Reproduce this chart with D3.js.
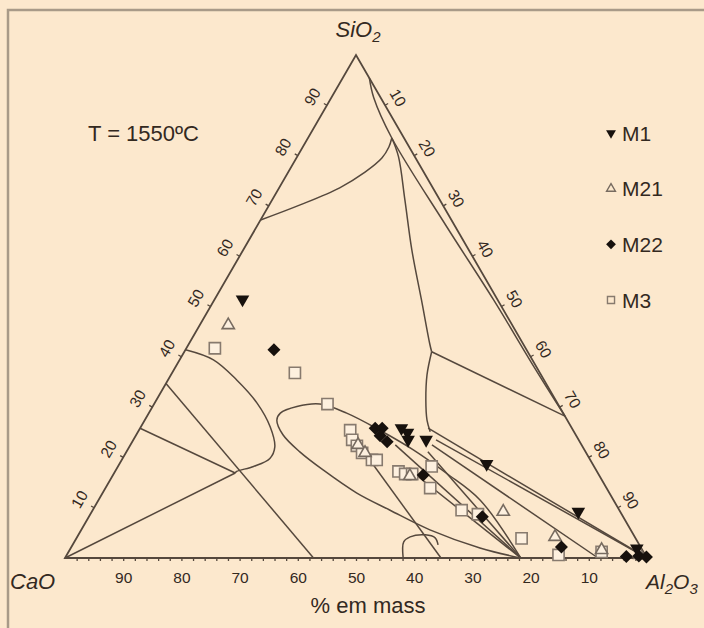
<!DOCTYPE html>
<html>
<head>
<meta charset="utf-8">
<script src="https://cdn.jsdelivr.net/npm/d3@7"></script>
<style>
  body { margin: 0; background: #fce8cd; }
  svg { display: block; }
  text { font-family: "Liberation Sans", Arial, sans-serif; fill: #33291f; }
</style>
</head>
<body>
<svg width="704" height="628"></svg>
<script>
// compositions are [CaO, SiO2, Al2O3] in wt%
const seriesNames = ['M1', 'M21', 'M22', 'M3'];

const m1 = [[43.8,51.4,4.8],[29.3,25.8,44.9],[28.7,24.9,46.4],[29.3,23.5,47.2],[26.2,23.5,50.3],
  [18.2,18.7,63.1],[7.2,9.2,83.6],[0.8,1.9,97.3]];
const m21 = [[48.8,46.3,4.9],[38.4,22.5,39.1],[38.0,20.9,41.1],[32.6,16.3,51.1],[20.1,9.2,70.7],
  [13.7,4.2,82.1],[7.0,1.6,91.4],[0.9,0.6,98.5]];
const m22 = [[43.4,41.4,15.2],[33.8,25.8,40.4],[32.6,25.8,41.6],[33.8,24.3,42.0],[33.1,23.1,43.8],
  [30.2,16.5,53.3],[24.3,8.2,67.6],[13.5,2.2,84.2],[3.4,0.3,96.3],[1.2,0.4,98.4],[0,0.2,99.8]];
const m3 = [[53.4,41.7,4.9],[42.1,36.8,21.1],[39.6,30.6,29.8],[38.3,25.4,36.3],[39.0,23.5,37.6],
  [38.7,22.3,39.0],[38.5,20.9,40.6],[37.6,19.5,43.0],[36.7,19.5,43.8],[27.9,18.2,53.9],
  [34.2,17.2,48.7],[33.2,16.7,50.1],[32.0,16.7,51.3],[30.4,13.9,55.8],[27.1,9.5,63.4],
  [24.7,8.7,66.6],[19.6,3.9,76.5],[14.9,0.6,84.5],[7.2,1.2,91.6]];

// phase boundaries / tie lines of the 1550 C section
const boundaries = [
  [[32.8,67.2,0],[24.5,70.2,5.3],[16.0,73.6,10.4],[10.1,76.7,13.2],[5.8,79.5,14.7],[3.5,81.7,14.8],[2.1,83.5,14.4]],
  [[0,95.4,4.6],[1.2,91.5,7.3],[2.1,83.5,14.4],[1.5,66.2,32.3],[0.7,51.3,48.0],[0.4,37.4,62.2],[0,28.2,71.8]],
  [[2.1,83.5,14.4],[2.8,79.8,17.4],[6.0,71.2,22.8],[9.8,61.2,29.0],[13.1,51.3,35.6],[16.0,42.7,41.3],[16.5,41.0,42.5]],
  [[16.5,41.0,42.5],[0,28.2,71.8]],
  [[16.5,41.0,42.5],[19.6,36.4,44.0],[22.3,31.4,46.3],[24.1,27.4,48.5],[24.8,25.1,50.2]],
  [[24.7,25.8,49.5],[0,0,100]],
  [[24.5,23.5,52.0],[0,0,100]],
  [[25.7,22.5,51.8],[8.4,0,91.6]],
  [[27.1,21.1,51.8],[21.7,0,78.3]],
  [[32.1,22.5,45.5],[21.7,0,78.3]],
  [[32.0,17.5,50.5],[21.7,0,78.3]],
  // elongated liquid loop
  [[21.7,0,78.3],[22.9,11.5,65.6],[26.0,16.8,57.2],[29.4,21.5,49.1],[33.2,25.4,41.4],[37.2,28.8,34.0],
   [40.9,30.6,28.5],[45.2,30.1,24.8],[48.6,28.8,22.6],[49.9,27.4,22.7],[50.3,24.5,25.2],[49.1,21.1,29.8],
   [46.9,17.5,35.6],[43.5,12.9,43.7],[39.4,9.5,51.1],[34.5,5.6,59.9],[27.7,2.0,70.3],[21.7,0,78.3]],
  [[38.4,23.5,38.1],[35.4,0,64.6]],
  [[41.9,0,58.1],[40.2,3.2,56.6],[38.6,4.2,57.2],[35.9,4.6,59.6],[34.4,4.0,61.6],[34.6,2.6,62.8]],
  // CaO-rich side
  [[58.6,41.4,0],[54.8,39.4,5.8],[52.8,35.4,11.8],[51.7,30.8,17.6],[51.7,26.1,22.2],[52.9,22.1,25.0],
   [54.9,19.8,25.3],[58.6,18.2,23.3],[61.9,17.2,20.9],[62.3,16.9,20.8]],
  [[74.2,25.8,0],[62.3,16.9,20.8]],
  [[100,0,0],[62.3,16.9,20.8]],
  [[65.3,34.7,0],[57.3,0,42.7]]
];

const axisTicks = [10, 20, 30, 40, 50, 60, 70, 80, 90];

const ink = '#55483d';

const svg = d3.select('svg');

// frame
svg.append('path')
  .attr('d', 'M8,628 V10 H704')
  .attr('fill', 'none')
  .attr('stroke', '#a89a88')
  .attr('stroke-width', 2.5);

const x0 = 65, x1 = 647, yBase = 558, yTop = 55;

// horizontal position measured in "Al2O3 + SiO2/2" units, vertical in SiO2
const xScale = d3.scaleLinear().domain([0, 100]).range([x0, x1]);
const yScale = d3.scaleLinear().domain([0, 100]).range([yBase, yTop]);
const caoScale = d3.scaleLinear().domain([100, 0]).range([x0, x1]);

const px = d => xScale(d[2] + d[1] / 2);
const py = d => yScale(d[1]);

const chart = svg.append('g');

// phase diagram lines
const line = d3.line().x(px).y(py).curve(d3.curveCatmullRom.alpha(0.5));
chart.selectAll('.bnd')
  .data(boundaries)
  .enter()
  .append('path')
  .attr('class', 'bnd')
  .attr('d', line)
  .attr('fill', 'none')
  .attr('stroke', ink)
  .attr('stroke-width', 1.5);

// triangle edges
const corners = [[100, 0, 0], [0, 100, 0], [0, 0, 100]];
chart.append('path')
  .attr('d', d3.line().x(px).y(py)(corners) + 'Z')
  .attr('fill', 'none')
  .attr('stroke', ink)
  .attr('stroke-width', 1.8);

// bottom axis (CaO)
const minor = d3.range(2, 100, 2);
chart.append('g')
  .attr('transform', `translate(0, ${yBase})`)
  .call(d3.axisBottom(caoScale).tickValues(minor).tickSize(3).tickFormat(''))
  .call(g => g.select('.domain').remove())
  .selectAll('line').attr('stroke', ink).attr('stroke-width', 1.3);

chart.append('g')
  .attr('transform', `translate(0, ${yBase})`)
  .call(d3.axisBottom(caoScale).tickValues(axisTicks).tickSize(0).tickPadding(14))
  .call(g => g.select('.domain').remove())
  .selectAll('text')
  .attr('font-size', 15.5)
  .attr('font-family', '"Liberation Sans", Arial, sans-serif')
  .attr('fill', '#33291f');

// side tick marks
const sideTicks = chart.append('g');
axisTicks.forEach(v => {
  const l = [100 - v, v, 0];
  const r = [0, 100 - v, v];
  sideTicks.append('line')
    .attr('x1', px(l)).attr('y1', py(l))
    .attr('x2', px(l) - 3.5 * 0.866).attr('y2', py(l) - 3.5 * 0.5)
    .attr('stroke', ink).attr('stroke-width', 1.3);
  sideTicks.append('line')
    .attr('x1', px(r)).attr('y1', py(r))
    .attr('x2', px(r) + 3.5 * 0.866).attr('y2', py(r) - 3.5 * 0.5)
    .attr('stroke', ink).attr('stroke-width', 1.3);
});

// left labels: SiO2
chart.selectAll('.lab-left')
  .data(axisTicks)
  .enter()
  .append('text')
  .attr('class', 'lab-left')
  .attr('font-size', 15.5)
  .attr('text-anchor', 'middle')
  .attr('dominant-baseline', 'central')
  .attr('transform', v => {
    const p = [100 - v, v, 0];
    return `translate(${px(p) - 17 * 0.866}, ${py(p) - 17 * 0.5}) rotate(-60)`;
  })
  .text(v => v);

// right labels: Al2O3
chart.selectAll('.lab-right')
  .data(axisTicks)
  .enter()
  .append('text')
  .attr('class', 'lab-right')
  .attr('font-size', 15.5)
  .attr('text-anchor', 'middle')
  .attr('dominant-baseline', 'central')
  .attr('transform', v => {
    const p = [0, 100 - v, v];
    return `translate(${px(p) + 15 * 0.866}, ${py(p) - 15 * 0.5}) rotate(60)`;
  })
  .text(v => v);

// markers
const symTri = d3.symbol().type(d3.symbolTriangle);
const symSq = d3.symbol().type(d3.symbolSquare);

function drawSeries(data, kind) {
  const g = chart.append('g');
  const sel = g.selectAll('path').data(data).enter().append('path');
  if (kind === 'M3') {
    sel.attr('d', symSq.size(125)())
      .attr('fill', '#fdf0df').attr('stroke', '#877a6e').attr('stroke-width', 1.6)
      .attr('transform', d => `translate(${px(d)}, ${py(d)})`);
  } else if (kind === 'M21') {
    sel.attr('d', symTri.size(65)())
      .attr('fill', '#fdf0df').attr('stroke', '#776b60').attr('stroke-width', 1.6)
      .attr('transform', d => `translate(${px(d)}, ${py(d)})`);
  } else if (kind === 'M22') {
    sel.attr('d', symSq.size(85)())
      .attr('fill', '#17110d')
      .attr('transform', d => `translate(${px(d)}, ${py(d)}) rotate(45)`);
  } else {
    sel.attr('d', symTri.size(80)())
      .attr('fill', '#17110d')
      .attr('transform', d => `translate(${px(d)}, ${py(d)}) rotate(180)`);
  }
}
drawSeries(m3, 'M3');
drawSeries(m21, 'M21');
drawSeries(m22, 'M22');
drawSeries(m1, 'M1');

// legend
const legend = svg.append('g');
const legendY = d3.scalePoint().domain(seriesNames).range([133, 300]);
seriesNames.forEach(name => {
  const y = legendY(name);
  const m = legend.append('path').attr('transform', `translate(611, ${y})`);
  if (name === 'M1') m.attr('d', symTri.size(42)()).attr('fill', '#17110d').attr('transform', `translate(611, ${y}) rotate(180)`);
  if (name === 'M21') m.attr('d', symTri.size(34)()).attr('fill', 'none').attr('stroke', '#776b60').attr('stroke-width', 1.4);
  if (name === 'M22') m.attr('d', symSq.size(48)()).attr('fill', '#17110d').attr('transform', `translate(611, ${y}) rotate(45)`);
  if (name === 'M3') m.attr('d', symSq.size(50)()).attr('fill', 'none').attr('stroke', '#877a6e').attr('stroke-width', 1.4);
  legend.append('text')
    .attr('x', 622).attr('y', y)
    .attr('dominant-baseline', 'central')
    .attr('font-size', 21)
    .text(name);
});

// titles and corner labels
svg.append('text').attr('x', 88).attr('y', 133)
  .attr('dominant-baseline', 'central').attr('font-size', 22).text('T = 1550ºC');

const formula = (x, y, size, parts, anchor) => {
  const t = svg.append('text').attr('x', x).attr('y', y)
    .attr('font-size', size).attr('font-style', 'italic').attr('text-anchor', anchor);
  parts.forEach(p => {
    const s = t.append('tspan').text(p[0]);
    if (p[1]) s.attr('font-size', 15).attr('dy', 5);
    else if (p[2]) s.attr('dy', -5);
  });
};
formula(358, 37, 22, [['SiO'], ['2', true]], 'middle');
formula(10, 589, 22, [['CaO']], 'start');
formula(646, 589, 21, [['Al'], ['2', true], ['O', false, true], ['3', true]], 'start');

svg.append('text').attr('x', 368).attr('y', 613)
  .attr('text-anchor', 'middle').attr('font-size', 22).text('% em mass');
</script>
</body>
</html>
